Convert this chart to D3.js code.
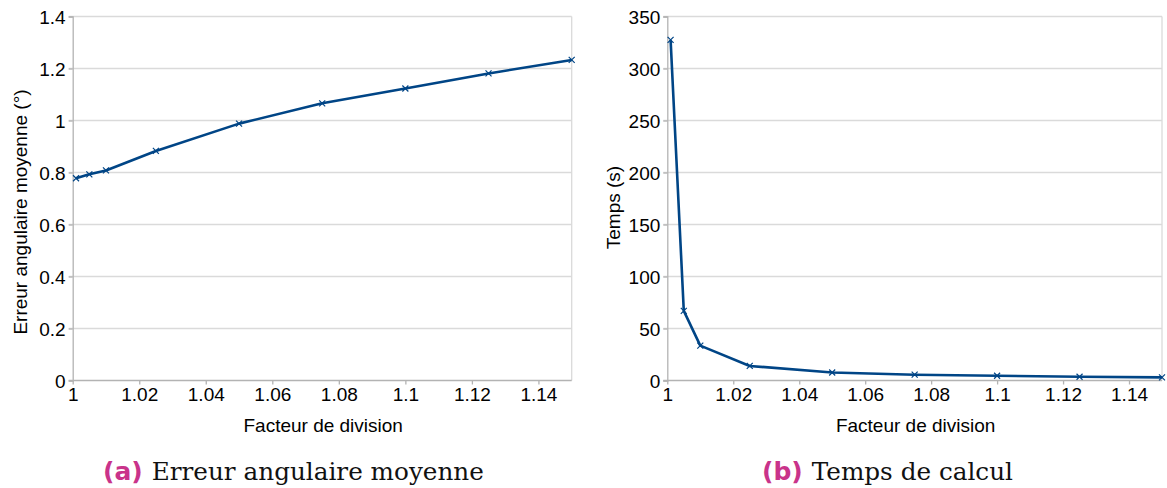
<!DOCTYPE html>
<html>
<head>
<meta charset="utf-8">
<script src="https://cdn.jsdelivr.net/npm/d3@7"></script>
<style>
  html, body { margin: 0; padding: 0; background: #fff; }
  svg { display: block; }
</style>
</head>
<body>
<svg id="chart" width="1167" height="488"></svg>
<script>
// ---- data ----
const facteurs = [1.001, 1.005, 1.01, 1.025, 1.05, 1.075, 1.1, 1.125, 1.15];
const erreurAngulaire = [0.778, 0.793, 0.808, 0.883, 0.988, 1.066, 1.123, 1.181, 1.233];
const tempsCalcul = [327.5, 67, 33.5, 14, 7.7, 5.6, 4.6, 3.6, 3.0];
const xTicks = [1, 1.02, 1.04, 1.06, 1.08, 1.1, 1.12, 1.14];
const yTicksA = [0, 0.2, 0.4, 0.6, 0.8, 1, 1.2, 1.4];
const yTicksB = [0, 50, 100, 150, 200, 250, 300, 350];
const xTitle = "Facteur de division";
const yTitleA = "Erreur angulaire moyenne (°)";
const yTitleB = "Temps (s)";
const captionA = ["(a)", "Erreur angulaire moyenne"];
const captionB = ["(b)", "Temps de calcul"];

const svg = d3.select("#chart");
const LINE = "#004586", GRID = "#dadada", AXIS = "#b3b3b3";
const SANS = "'Liberation Sans', Arial, sans-serif";

function panel(opts) {
  const x = d3.scaleLinear().domain([1, 1.15]).range([opts.x0, opts.x1]);
  const y = d3.scaleLinear().domain([0, opts.ymax]).range([380.5, 16.5]);
  const g = svg.append("g");

  // gridlines
  g.append("g").selectAll("line").data(opts.yTicks.filter(d => d > 0)).join("line")
    .attr("x1", opts.x0 - 4).attr("x2", opts.x1)
    .attr("y1", d => y(d)).attr("y2", d => y(d))
    .attr("stroke", GRID).attr("stroke-width", 1.3);
  // right border
  g.append("line").attr("x1", opts.x1).attr("x2", opts.x1)
    .attr("y1", y(opts.ymax)).attr("y2", y(0))
    .attr("stroke", GRID).attr("stroke-width", 1.3);

  // y axis
  const ya = g.append("g").attr("transform", `translate(${opts.x0},0)`)
    .call(d3.axisLeft(y).tickValues(opts.yTicks).tickSize(4).tickPadding(3)
      .tickFormat(d3.format("~g")));
  ya.select(".domain").attr("stroke", AXIS).attr("stroke-width", 1.3);
  ya.selectAll(".tick line").attr("stroke", AXIS).attr("stroke-width", 1.3);
  ya.selectAll("text").attr("font-family", SANS).attr("font-size", 19).attr("fill", "#000")
    .attr("dy", "0.35em");

  // x axis
  const xa = g.append("g").attr("transform", `translate(0,${y(0)})`)
    .call(d3.axisBottom(x).tickValues(xTicks).tickSize(4).tickPadding(3)
      .tickFormat(d3.format("~g")));
  xa.select(".domain").attr("stroke", AXIS).attr("stroke-width", 1.3)
    .attr("d", `M${opts.x0 - 4},0H${opts.x1}`);
  xa.selectAll(".tick line").attr("stroke", AXIS).attr("stroke-width", 1.3);
  xa.selectAll("text").attr("font-family", SANS).attr("font-size", 19).attr("fill", "#000")
    .attr("dy", "0.71em");

  // line
  const data = facteurs.map((f, i) => [f, opts.values[i]]);
  g.append("path").datum(data)
    .attr("d", d3.line().x(d => x(d[0])).y(d => y(d[1])))
    .attr("fill", "none").attr("stroke", LINE).attr("stroke-width", 2.6)
    .attr("stroke-linejoin", "round");
  // markers
  const s = 3;
  g.append("g").selectAll("path").data(data).join("path")
    .attr("d", d => {
      const cx = x(d[0]), cy = y(d[1]);
      return `M${cx - s},${cy - s}L${cx + s},${cy + s}M${cx - s},${cy + s}L${cx + s},${cy - s}`;
    })
    .attr("stroke", LINE).attr("stroke-width", 1.2);

  // titles
  g.append("text").attr("x", (opts.x0 + opts.x1) / 2 + 1).attr("y", 432)
    .attr("text-anchor", "middle").attr("font-family", SANS).attr("font-size", 19)
    .text(xTitle);
  g.append("text")
    .attr("transform", `translate(${opts.ytx},${opts.yty}) rotate(-90)`)
    .attr("text-anchor", "middle").attr("font-family", SANS).attr("font-size", 19)
    .text(opts.ytitle);

  // caption
  const c = g.append("text").attr("x", opts.capx).attr("y", 480);
  c.append("tspan").attr("font-family", "'DejaVu Sans', sans-serif").attr("font-weight", "bold")
    .attr("font-size", 25).attr("fill", "#c9338a").text(opts.caption[0]);
  c.append("tspan").attr("dx", 9).attr("font-family", "'DejaVu Serif', serif")
    .attr("font-size", 24.7).attr("fill", "#111").text(opts.caption[1]);
}

panel({ x0: 72.7, x1: 571.7, ymax: 1.4, yTicks: yTicksA, values: erreurAngulaire,
        ytitle: yTitleA, ytx: 27, yty: 212, caption: captionA, capx: 103 });
panel({ x0: 667.3, x1: 1162, ymax: 350, yTicks: yTicksB, values: tempsCalcul,
        ytitle: yTitleB, ytx: 620, yty: 207.5, caption: captionB, capx: 762 });
</script>
</body>
</html>
